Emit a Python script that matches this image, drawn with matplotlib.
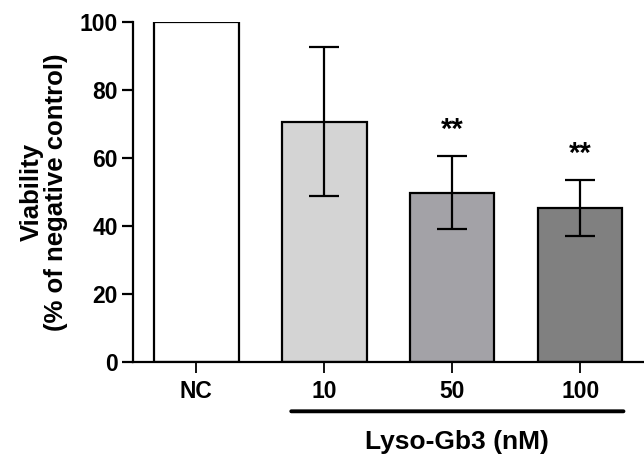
import matplotlib
matplotlib.use("Agg")
import matplotlib.pyplot as plt

categories = ["NC", "10", "50", "100"]
viability = [100.0, 70.7, 49.8, 45.3]
sd = [0.0, 22.0, 10.8, 8.2]
bar_colors = ["#ffffff", "#d4d4d4", "#a3a2a7", "#808080"]
significance = ["", "", "**", "**"]
yticks = [0, 20, 40, 60, 80, 100]

plt.rcParams["font.family"] = ["Liberation Sans", "DejaVu Sans"]
plt.rcParams["font.weight"] = "bold"

fig = plt.figure(figsize=(6.44, 4.62), dpi=100)
ax = fig.add_axes([133 / 644, 1 - 362 / 462, (648 - 133) / 644, (362 - 22) / 462])

x = list(range(len(categories)))
ax.bar(x, viability, width=0.66, color=bar_colors, edgecolor="black", linewidth=1.6, zorder=2)
for xi, v, e in zip(x, viability, sd):
    if e > 0:
        ax.errorbar(xi, v, yerr=e, fmt="none", ecolor="black", elinewidth=1.6,
                    capsize=10.5, capthick=1.6, zorder=3)
for xi, v, e, s in zip(x, viability, sd, significance):
    if s:
        ax.text(xi, v + e + 3.5, s, ha="center", va="bottom", fontsize=21,
                fontweight="bold")

ax.set_xlim(-0.495, 3.53)
ax.set_ylim(0, 100)
ax.set_yticks(yticks)
ax.set_xticks(x)
ax.set_xticklabels(categories, fontsize=16.5, fontweight="bold")
ax.tick_params(axis="y", labelsize=16.5, width=1.6, length=8, direction="out", pad=3)
ax.tick_params(axis="x", width=1.3, length=8, direction="out", pad=5)
for lbl in ax.get_yticklabels():
    lbl.set_fontweight("bold")

for side in ["top", "right"]:
    ax.spines[side].set_visible(False)
ax.spines["left"].set_linewidth(1.6)
ax.spines["bottom"].set_linewidth(1.6)

ax.set_ylabel("Viability\n(% of negative control)", fontsize=18.5, fontweight="bold",
              labelpad=8, linespacing=1.05)

# grouping bracket under the Lyso-Gb3 concentrations
ax.annotate("", xy=(0.72, -0.145), xytext=(3.36, -0.145), xycoords=("data", "axes fraction"),
            arrowprops=dict(arrowstyle="-", linewidth=2.8, color="black"))
ax.text(2.04, -0.2, "Lyso-Gb3 (nM)", transform=ax.get_xaxis_transform(),
        ha="center", va="top", fontsize=19, fontweight="bold")

fig.savefig("out.png", dpi=100)
